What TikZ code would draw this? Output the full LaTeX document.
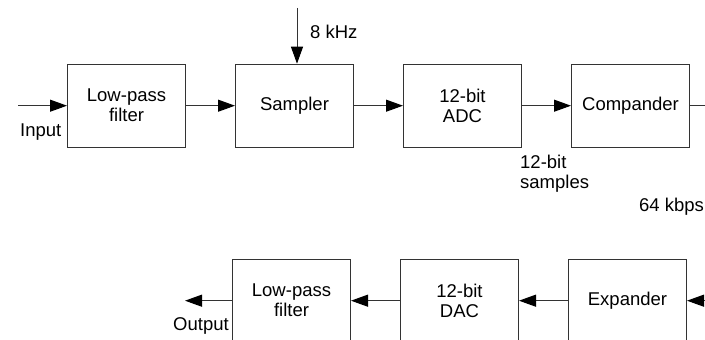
\documentclass[tikz,border=0pt]{standalone}
\usepackage{fontspec}
\setmainfont{Liberation Sans}
\usepackage{tikz}
\usetikzlibrary{arrows.meta,positioning}
\definecolor{lineg}{HTML}{333333}

\begin{document}
\begin{tikzpicture}[x=1pt,y=1pt,
  every node/.style={font=\fontsize{18.5}{20}\selectfont},
  blk/.style={draw=lineg,line width=1pt,minimum width=118pt,minimum height=83pt,inner sep=0pt,align=center},
  sig/.style={draw=lineg,line width=1pt,-{Triangle[length=17pt,width=12pt,black]}},
  node distance=49pt]
  \useasboundingbox (0,0) rectangle (705,340);
  % Transmit chain
  \node[blk] (lpf) at (126.5,234.3) {Low-pass\\filter};
  \node[blk,right=of lpf] (samp) {Sampler};
  \node[blk,right=of samp] (adc) {12-bit\\ADC};
  \node[blk,right=of adc] (comp) {Compander};
  % Receive chain
  \node[blk] (exp) at (627.5,39.3) {Expander};
  \node[blk,left=of exp] (dac) {12-bit\\DAC};
  \node[blk,left=of dac] (lpfb) {Low-pass\\filter};
  % Free ends
  \coordinate (in) at (18,234.3);
  \coordinate (clk) at (297,332);
  \coordinate (txout) at (705,234.3);
  \coordinate (rxin) at (705,39.3);
  \coordinate (out) at (185,39.3);
  % Connectors
  \draw[sig] (in) -- (lpf);
  \draw[sig] (clk) -- (clk |- samp.north);
  \draw[sig] (lpf) -- (samp);
  \draw[sig] (samp) -- (adc);
  \draw[sig] (adc) -- (comp);
  \draw[draw=lineg,line width=1pt] (comp) -- (txout);
  \draw[sig] (rxin) -- (exp);
  \draw[sig] (exp) -- (dac);
  \draw[sig] (dac) -- (lpfb);
  \draw[sig] (lpfb) -- (out);
  % Labels
  \node[anchor=base west,inner sep=0pt] (lin) at (20,203) {Input};
  \node[anchor=base west,inner sep=0pt] (lclk) at (310,301) {8 kHz};
  \node[anchor=base west,inner sep=0pt,align=left] (lsmp) at (520,151) {12-bit\\samples};
  \node[anchor=base west,inner sep=0pt] (lrate) at (639,128.5) {64 kbps};
  \node[anchor=base west,inner sep=0pt] (lout) at (173,9) {Output};
\end{tikzpicture}
\end{document}
